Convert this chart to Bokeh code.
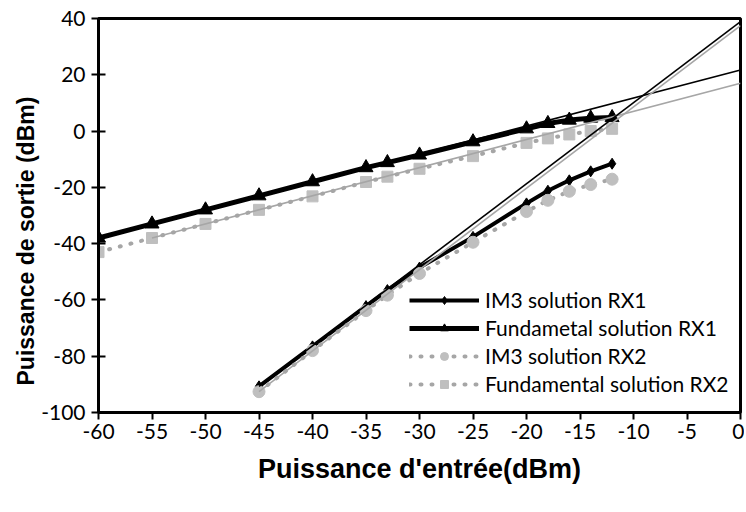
from bokeh.plotting import figure
from bokeh.models import FixedTicker, Legend, LegendItem, Title
from bokeh.embed import file_html
from bokeh.resources import INLINE

# ---- data ----
x_fund = [-60, -55, -50, -45, -40, -35, -33, -30, -25, -20, -18, -16, -14, -12]
fund_rx1 = [-38, -33, -28, -23, -18, -13, -11.2, -8.5, -3.8, 0.8, 2.7, 3.9, 4.6, 4.8]
fund_rx2 = [-43, -38, -33, -28, -23.2, -18.1, -16.2, -13.4, -8.9, -4.2, -2.6, -1.2, 0.0, 0.8]

x_im3 = [-45, -40, -35, -33, -30, -25, -20, -18, -16, -14, -12]
im3_rx1 = [-90.7, -76.5, -62.2, -56.5, -48.5, -37.6, -25.7, -21.2, -17.5, -14.3, -11.6]
im3_rx2 = [-92.6, -78.0, -63.8, -58.3, -50.6, -39.5, -28.6, -24.6, -21.4, -19.0, -17.1]

# extrapolation lines (endpoints)
ext_fund_rx1_x = [-60, 0]
ext_fund_rx1_y = [-38, 21.7]
ext_fund_rx2_x = [-55, 0]
ext_fund_rx2_y = [-38, 17.0]
ext_im3_rx1_x = [-45, 0]
ext_im3_rx1_y = [-90.7, 38.9]
ext_im3_rx2_x = [-45, 0]
ext_im3_rx2_y = [-92.6, 37.5]

x_ticks = [-60, -55, -50, -45, -40, -35, -30, -25, -20, -15, -10, -5, 0]
y_ticks = [-100, -80, -60, -40, -20, 0, 20, 40]

labels = ["IM3 solution RX1", "Fundametal solution RX1",
          "IM3 solution RX2", "Fundamental solution RX2"]
x_title = "Puissance d'entrée(dBm)"
y_title = "Puissance de sortie (dBm)"

BLACK = "#000000"
GRAY_M = "#BFBFBF"
GRAY_L = "#A6A6A6"

p = figure(width=744, height=496, x_range=(-60, 0), y_range=(-100, 40),
           output_backend="svg", toolbar_location=None,
           min_border_left=98, min_border_right=4, min_border_top=18,
           min_border_bottom=84)

p.xgrid.visible = False
p.ygrid.visible = False
p.outline_line_color = BLACK
p.outline_line_width = 3
p.background_fill_color = "white"
p.border_fill_color = "white"

TICK_FONT = "Lato"
for ax in (p.xaxis[0], p.yaxis[0]):
    ax.axis_line_color = BLACK
    ax.axis_line_width = 3
    ax.major_tick_line_color = BLACK
    ax.major_tick_line_width = 2
    ax.minor_tick_line_color = None
    ax.major_label_text_font = TICK_FONT
    ax.major_label_text_font_size = "21px"
    ax.major_label_text_color = BLACK
    ax.axis_label_text_font = "Liberation Sans"
    ax.axis_label_text_font_style = "bold"
    ax.axis_label_text_color = BLACK

p.xaxis.axis_label_text_font_size = "27px"
p.xaxis.ticker = FixedTicker(ticks=x_ticks)
p.yaxis.ticker = FixedTicker(ticks=y_ticks)
p.xaxis.major_label_overrides = {t: str(t) for t in x_ticks}
p.yaxis.major_label_overrides = {t: str(t) for t in y_ticks}
p.xaxis.major_tick_in = 0
p.xaxis.major_tick_out = 7
p.yaxis.major_tick_in = 7
p.yaxis.major_tick_out = 7
p.xaxis.major_label_standoff = 4
p.yaxis.major_label_standoff = 6
p.xaxis.axis_label = x_title
p.xaxis.axis_label_standoff = 12

# y title as a side title, aligned from the bottom of the frame
yt = Title(text=y_title, align="left", offset=27, standoff=0,
           text_font="Liberation Sans", text_font_style="bold",
           text_font_size="23px", text_color=BLACK)
p.add_layout(yt, "left")

# series
l1 = p.line(x_im3, im3_rx1, line_color=BLACK, line_width=4)
m1 = p.scatter(x_im3, im3_rx1, marker="diamond", size=11, color=BLACK)

l2 = p.line(x_fund, fund_rx1, line_color=BLACK, line_width=5)
m2 = p.scatter(x_fund, fund_rx1, marker="triangle", size=14, color=BLACK)

l3 = p.line(x_im3, im3_rx2, line_color=GRAY_L, line_width=4,
            line_dash="1 10", line_cap="round")
m3 = p.scatter(x_im3, im3_rx2, marker="circle", size=12, color=GRAY_M)

l4 = p.line(x_fund, fund_rx2, line_color=GRAY_L, line_width=4,
            line_dash="1 10", line_cap="round")
m4 = p.scatter(x_fund, fund_rx2, marker="square", size=11, color=GRAY_M)

# extrapolation lines
p.line(ext_fund_rx1_x, ext_fund_rx1_y, line_color=BLACK, line_width=1.6)
p.line(ext_fund_rx2_x, ext_fund_rx2_y, line_color=GRAY_L, line_width=1.6)
p.line(ext_im3_rx1_x, ext_im3_rx1_y, line_color=BLACK, line_width=1.6)
p.line(ext_im3_rx2_x, ext_im3_rx2_y, line_color=GRAY_L, line_width=1.6)

legend = Legend(items=[
    LegendItem(label=labels[0], renderers=[l1, m1]),
    LegendItem(label=labels[1], renderers=[l2, m2]),
    LegendItem(label=labels[2], renderers=[l3, m3]),
    LegendItem(label=labels[3], renderers=[l4, m4]),
], location=(311, 16))
legend.background_fill_alpha = 0
legend.border_line_color = None
legend.padding = 0
legend.margin = 0
legend.spacing = 3
legend.glyph_width = 70
legend.glyph_height = 20
legend.label_standoff = 6
legend.label_text_font = TICK_FONT
legend.label_text_font_size = "21px"
legend.label_text_color = BLACK
p.add_layout(legend, "center")

open("out.html", "w").write(file_html(p, INLINE))
